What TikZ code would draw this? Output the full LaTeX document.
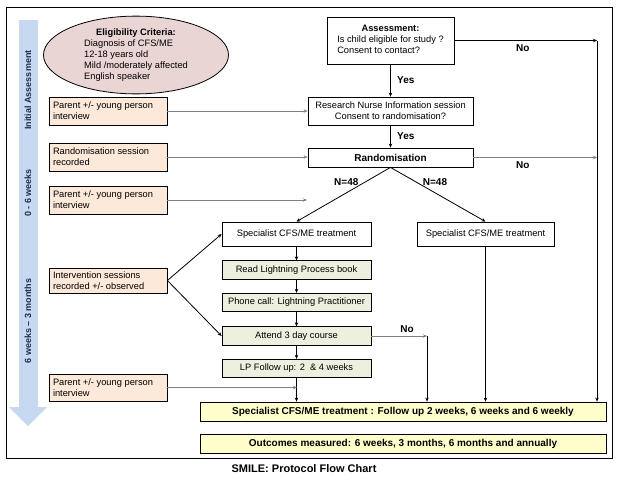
\documentclass[tikz,border=0pt]{standalone}
\usepackage{fontspec}
\setmainfont{Liberation Sans}
\usetikzlibrary{positioning, arrows.meta, shapes.geometric}
\definecolor{peach}{RGB}{253,233,217}
\definecolor{sage}{RGB}{235,241,222}
\definecolor{cream}{RGB}{255,255,204}
\definecolor{rose}{RGB}{234,213,213}
\definecolor{timeblue}{RGB}{198,217,241}
\definecolor{phaseink}{RGB}{31,45,80}

\begin{document}
\begin{tikzpicture}[x=1pt, y=-1pt, >={Stealth[length=4pt,width=3.5pt]}, line width=0.8pt,
    every node/.style={font=\fontsize{9.3}{11}\selectfont},
    bold/.style={font=\fontsize{10}{11}\selectfont\bfseries},
    plainbox/.style={draw, fill=white, inner sep=0pt, align=center},
    peachbox/.style={draw, fill=peach, inner xsep=4pt, inner ysep=0pt, text width=110pt, align=flush left},
    greenbox/.style={draw, fill=sage, inner sep=0pt, minimum width=149, minimum height=18.5},
    yellowbox/.style={draw, fill=cream, inner sep=0pt, minimum width=406, minimum height=19, bold},
    phase/.style={rotate=90, text=phaseink, font=\fontsize{9}{11}\selectfont\bfseries},
    faint/.style={black!50}]
    \useasboundingbox (0,0) rectangle (623,482);
    \draw[line width=1pt] (6,7) rectangle (612,458);

    % time line down the left side
    \fill[timeblue] (19,20) -- (38,20) -- (38,407) -- (47,407) -- (28,426) -- (9,407) -- (19,407) -- cycle;
    \node[phase] (phaseA) at (28,90) {Initial Assessment};
    \node[phase] (phaseB) at (28,193) {0 - 6 weeks};
    \node[phase] (phaseC) at (28,321) {6 weeks -- 3 months};

    % criteria and left column
    \node[ellipse, draw, fill=rose, inner sep=0pt, minimum width=185, minimum height=66] (crit) at (136,55)
        {\begin{tabular}{@{}l@{}}\multicolumn{1}{@{}c@{}}{\textbf{Eligibility Criteria:}}\\
         Diagnosis of CFS/ME\\ 12-18 years old\\ Mild /moderately affected\\ English speaker\end{tabular}};
    \node[peachbox, minimum height=28] (intvA) at (108,111) {Parent +/- young person\\interview};
    \node[peachbox, minimum height=28] (randrec) at (108,157) {Randomisation session\\recorded};
    \node[peachbox, minimum height=28] (intvB) at (108,200) {Parent +/- young person\\interview};
    \node[peachbox, minimum height=25] (sessrec) at (108,280.5) {Intervention sessions\\recorded +/- observed};
    \node[peachbox, minimum height=27] (intvC) at (108,387.5) {Parent +/- young person\\interview};

    % main flow
    \node[plainbox, minimum width=127, minimum height=47] (assess) at (390.5,40.5)
        {\begin{tabular}{@{}l@{}}\multicolumn{1}{@{}c@{}}{\textbf{Assessment:}}\\
         Is child eligible for study ?\\ Consent to contact?\end{tabular}};
    \node[plainbox, minimum width=165, minimum height=28] (nurse) at (390.5,111)
        {Research Nurse Information session\\Consent to randomisation?};
    \node[plainbox, minimum width=165, minimum height=19, bold] (rand) at (390.5,157.5) {Randomisation};
    \node[plainbox, minimum width=149, minimum height=24] (specA) at (296.5,234) {Specialist CFS/ME treatment};
    \node[plainbox, minimum width=137, minimum height=24] (specB) at (485.5,234) {Specialist CFS/ME treatment};
    \node[greenbox] (book) at (296.5,270) {Read Lightning Process book};
    \node[greenbox] (phone) at (296.5,302.5) {Phone call: Lightning Practitioner};
    \node[greenbox] (course) at (296.5,336) {Attend 3 day course};
    \node[greenbox] (lpfu) at (296.5,368.5) {LP Follow up: 2 \ \& 4 weeks};
    \node[yellowbox] (follow) at (403,411.5) {Specialist CFS/ME treatment : Follow up 2 weeks, 6 weeks and 6 weekly};
    \node[yellowbox] (outcome) at (403,443.5) {Outcomes measured: 6 weeks, 3 months, 6 months and annually};
    \node[font=\fontsize{11}{13}\selectfont\bfseries] (title) at (304,469) {SMILE: Protocol Flow Chart};

    \coordinate (noA) at (597,40.5);
    \coordinate (noB) at (597,157.5);
    \coordinate (noC) at (427,336);
    \coordinate (toIntv) at (307,200);
    \coordinate (toLP) at (297,387.5);

    \path[->] (assess) edge node[bold, right, xshift=3pt] {Yes} (nurse)
          (nurse) edge node[bold, right, xshift=3pt] {Yes} (rand)
          (assess.east) edge node[bold, below, pos=0.48] {No} (noA)
          (noA) edge (noA |- follow.north)
          (rand.south) edge node[bold, pos=0.27, left=3pt] {N=48} (specA.north)
          (rand.south) edge node[bold, pos=0.27, right=3pt] {N=48} (specB.north)
          (specA) edge (book)
          (book) edge (phone)
          (phone) edge (course)
          (course) edge (lpfu)
          (lpfu) edge (lpfu |- follow.north)
          (specB) edge (specB |- follow.north)
          (noC) edge (noC |- follow.north);
    \path[->, faint] (rand.east) edge node[bold, below, text=black, pos=0.40] {No} (noB)
          (course.east) edge node[bold, above, text=black, pos=0.64] {No} (noC)
          (intvA) edge (nurse)
          (randrec.east) edge (rand.west |- randrec.east)
          (intvB) edge (toIntv)
          (intvC) edge (toLP);
    \path[->] (sessrec.east) edge (specA.west)
          (sessrec.east) edge (course.west);
    \draw (noB) -- (noA);
\end{tikzpicture}
\end{document}
